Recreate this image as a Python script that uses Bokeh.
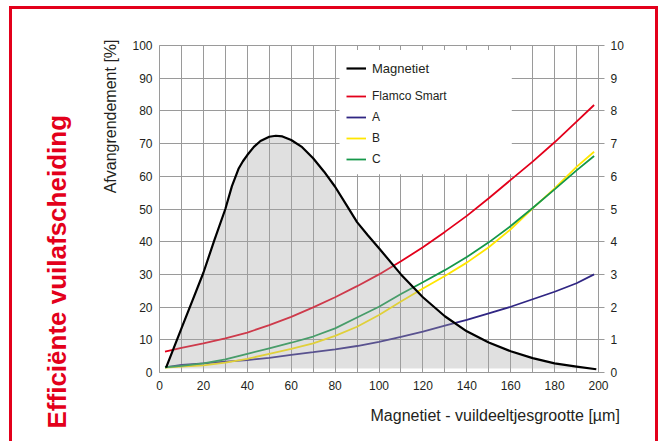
import numpy as np
from bokeh.plotting import figure
from bokeh.models import (Range1d, LinearAxis, FixedTicker, Legend, LegendItem,
                          Title, BoxAnnotation)
from bokeh.embed import file_html
from bokeh.resources import INLINE

# ---------------- data ----------------
mag_x = [3, 10, 15, 20, 25, 30, 33, 36, 38, 40, 43, 46, 50, 53, 56, 60, 65, 70, 75, 80,
         85, 90, 95, 100, 110, 120, 130, 140, 150, 160, 170, 180, 190, 199]
mag_y = [1.5, 13.5, 22.0, 30.5, 40.5, 50.0, 57.0, 62.3, 64.6, 66.5, 69.0, 70.8, 72.1, 72.4,
         72.2, 71.1, 68.9, 65.5, 61.4, 56.8, 51.4, 46.0, 41.9, 38.0, 30.0, 23.0, 17.2, 12.6,
         9.2, 6.5, 4.4, 2.8, 1.8, 1.0]

eff_x = [2.5, 10, 20, 30, 40, 50, 60, 70, 80, 90, 100, 110, 120, 130, 140, 150, 160, 170,
         180, 190, 198]
flamco = [6.4, 7.5, 8.9, 10.4, 12.2, 14.5, 17.0, 19.9, 23.0, 26.4, 30.0, 34.0, 38.3, 43.0,
          47.9, 53.3, 58.9, 64.5, 70.4, 76.7, 81.8]
serie_a = [1.6, 2.3, 2.8, 3.3, 3.8, 4.5, 5.4, 6.2, 7.1, 8.1, 9.4, 10.9, 12.5, 14.3, 16.1,
           18.1, 20.1, 22.4, 24.7, 27.3, 30.0]
serie_b = [1.5, 1.8, 2.2, 3.0, 4.2, 5.7, 7.2, 8.9, 11.2, 14.0, 17.6, 21.7, 25.7, 29.5, 33.6,
           38.3, 43.8, 50.2, 56.3, 62.9, 67.5]
serie_c = [1.6, 2.0, 2.8, 4.0, 5.7, 7.4, 9.1, 11.0, 13.5, 16.8, 20.1, 24.0, 27.6, 31.3, 35.3,
           39.8, 44.8, 50.3, 56.0, 61.8, 66.2]

x_ticks = list(range(0, 201, 20))
x_grid = list(range(0, 201, 10))
y_ticks_left = list(range(0, 101, 10))
y_ticks_right = list(range(0, 11))
fill_base = 1.2

labels = ["Magnetiet", "Flamco Smart", "A", "B", "C"]

# ---------------- style ----------------
FONT = "Liberation Sans"
INK = "#231f20"
RED = "#e3001b"
GRID = "#9a9a9a"
COL_FLAMCO = "#e3001b"
COL_A = "#302683"
COL_B = "#ffe600"
COL_C = "#16984a"

p = figure(width=649, height=435, output_backend="svg", toolbar_location=None,
           x_range=Range1d(0, 200), y_range=Range1d(0, 100),
           min_border_left=147, min_border_right=63, min_border_top=36, min_border_bottom=72,
           background_fill_color="white", border_fill_color="white")
p.styles = {"margin-left": "9px", "margin-top": "6px",
            "border-top": "3px solid " + RED, "border-left": "3px solid " + RED,
            "border-right": "3px solid " + RED}
p.outline_line_color = GRID

p.xgrid.ticker = FixedTicker(ticks=x_grid)
p.ygrid.ticker = FixedTicker(ticks=y_ticks_left)
for g in (p.xgrid, p.ygrid):
    g.grid_line_color = GRID
    g.grid_line_width = 1

def style_axis(ax):
    ax.axis_line_color = GRID
    ax.major_tick_line_color = GRID
    ax.minor_tick_line_color = None
    ax.major_label_text_font = FONT
    ax.major_label_text_font_size = "12px"
    ax.major_label_text_color = INK

xa = p.xaxis[0]
xa.ticker = FixedTicker(ticks=x_ticks)
style_axis(xa)
xa.major_tick_out = 0
xa.major_tick_in = 0
xa.major_label_standoff = 8

ya = p.yaxis[0]
ya.ticker = FixedTicker(ticks=y_ticks_left)
style_axis(ya)
ya.major_tick_out = 0
ya.major_tick_in = 0
ya.major_label_standoff = 7

p.extra_y_ranges = {"right": Range1d(0, 10)}
ra = LinearAxis(y_range_name="right", ticker=FixedTicker(ticks=y_ticks_right))
style_axis(ra)
ra.major_tick_out = 6
ra.major_tick_in = 0
ra.major_label_standoff = 6
p.add_layout(ra, "right")

# white legend panel
box = BoxAnnotation(left=82, right=160.5, bottom=60.6, top=98.6,
                    fill_color="white", fill_alpha=1, line_color=None, level="underlay")
p.add_layout(box)

# series
r_f = p.line(eff_x, flamco, line_color=COL_FLAMCO, line_width=1.8)
r_a = p.line(eff_x, serie_a, line_color=COL_A, line_width=1.8)
r_b = p.line(eff_x, serie_b, line_color=COL_B, line_width=1.8)
r_c = p.line(eff_x, serie_c, line_color=COL_C, line_width=1.8)

p.varea(x=mag_x, y1=[fill_base] * len(mag_x), y2=np.maximum(mag_y, fill_base).tolist(),
        fill_color="#a6a7a6", fill_alpha=0.35)
r_m = p.line(mag_x, mag_y, line_color="black", line_width=2.2, line_join="round")

leg_common = dict(padding=0, margin=0, spacing=0, glyph_width=20, glyph_height=20,
                  label_standoff=6, background_fill_alpha=0, border_line_color=None,
                  label_text_font=FONT, label_text_color=INK)
leg1 = Legend(items=[LegendItem(label=labels[0], renderers=[r_m])], location=(187, 294),
              label_height=20, label_text_font_size="13px", **leg_common)
leg2 = Legend(items=[LegendItem(label=labels[1], renderers=[r_f]),
                     LegendItem(label=labels[2], renderers=[r_a]),
                     LegendItem(label=labels[3], renderers=[r_b]),
                     LegendItem(label=labels[4], renderers=[r_c])],
              location=(187, 203), label_height=21, label_text_font_size="12px", **leg_common)
p.add_layout(leg1)
p.add_layout(leg2)

t1 = Title(text="Afvangrendement [%]", align="right", offset=-6, standoff=21,
           text_font=FONT, text_font_size="16px", text_font_style="normal", text_color=INK)
p.add_layout(t1, "left")
t2 = Title(text="Efficiënte vuilafscheiding", align="left", offset=-56, standoff=35,
           text_font=FONT, text_font_size="26px", text_font_style="bold", text_color=RED)
p.add_layout(t2, "left")
t3 = Title(text="Magnetiet - vuildeeltjesgrootte [µm]", align="left", offset=211,
           vertical_align="top", standoff=28,
           text_font=FONT, text_font_size="16px", text_font_style="normal", text_color=INK)
p.add_layout(t3, "below")

open("out.html", "w").write(file_html(p, INLINE))
